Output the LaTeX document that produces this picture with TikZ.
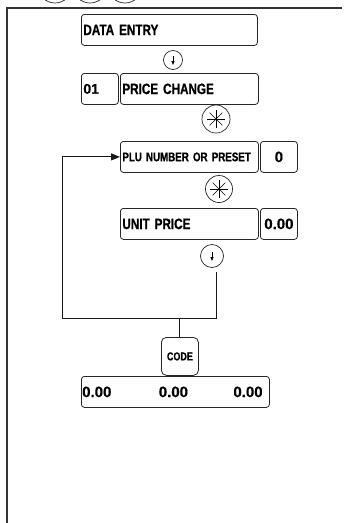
\documentclass[tikz,border=0pt]{standalone}
\usepackage{fontspec}
\newfontfamily\dispfont{Liberation Sans Bold}[FakeStretch=0.78,FakeBold=0.8]
\newfontfamily\numfont{Liberation Sans Bold}[FakeBold=0.5]
\usetikzlibrary{arrows.meta}
\tikzset{
  disp/.style={draw=black!85,line width=.8pt,rounded corners=3pt,inner xsep=2pt,inner ysep=0pt,
    anchor=north west,minimum height=31pt,align=left,font=\dispfont\fontsize{15}{17}\selectfont},
  val/.style={disp,align=center,font=\numfont\fontsize{15}{17}\selectfont},
  key/.style={draw=black!85,line width=.7pt,circle,inner sep=0pt,minimum size=#1},
  key/.default=26pt,
  wire/.style={line width=1pt,black!90}
}
\begin{document}
\begin{tikzpicture}[x=1pt,y=-1pt,>={Triangle[length=9pt,width=7pt]}]
\clip (0,0) rectangle (344,523);
% frame and keys of the previous step
\draw[line width=1.8pt,black!80] (342,8)--(7,8)--(7,524);
\foreach \x[count=\i] in {55,90,125} \node[key=34pt] (top\i) at (\x,-14) {};
% displays
\node[disp,text width=172pt] (dataentry) at (81,14) {DATA ENTRY};
\node[key=19pt] (down1) at (173,60) {};
\node[disp,text width=33pt,font=\numfont\fontsize{14}{16}\selectfont] (code01) at (81,73) {01};
\node[disp,text width=134pt] (pricechg) at (120,73) {PRICE CHANGE};
\node[key=28pt] (star1) at (216,119) {};
\node[disp,text width=134pt,font=\dispfont\fontsize{12.5}{14}\selectfont] (plu) at (120,141) {PLU NUMBER OR PRESET};
\node[val,minimum width=37pt] (pluval) at (260,141) {0};
\node[key=27pt] (star2) at (219,189) {};
\node[disp,text width=134pt] (unitprice) at (120,208) {UNIT PRICE};
\node[val,minimum width=37pt,inner xsep=1pt] (upval) at (260,208) {0.00};
\node[key=23pt] (down2) at (212,256) {};
\node[disp,minimum width=37pt,minimum height=38pt,rounded corners=5pt,align=center,
  font=\dispfont\fontsize{11.5}{13}\selectfont] (code) at (161,337) {CODE};
\node[disp,minimum width=188pt] (vals) at (81,376) {};
\node[font=\numfont\fontsize{15}{17}\selectfont,anchor=west,inner sep=1pt] (valA) at (vals.west) {0.00};
\node[font=\numfont\fontsize{15}{17}\selectfont,inner sep=1pt] (valB) at ([xshift=-2pt]vals.center) {0.00};
\node[font=\numfont\fontsize{15}{17}\selectfont,anchor=east,inner sep=1pt] (valC) at ([xshift=-6pt]vals.east) {0.00};
% key symbols
\foreach \k in {down1,down2} \draw[-{Triangle[length=4pt,width=3pt]},line width=.8pt] ([yshift=4pt]\k.center)--([yshift=-5pt]\k.center);
\foreach \k in {star1,star2} {\foreach \a in {0,45,90,135} \draw[line width=.6pt] (\k.center) ++(\a:9pt) -- ++(\a+180:18pt);}
% repeat loop
\coordinate (tap) at (216,272);
\coordinate (corner) at (62,318);
\draw[wire,->] (tap) |- (corner) |- (plu.west);
\draw[wire] (code.north)--(code.north |- corner);
\end{tikzpicture}
\end{document}
